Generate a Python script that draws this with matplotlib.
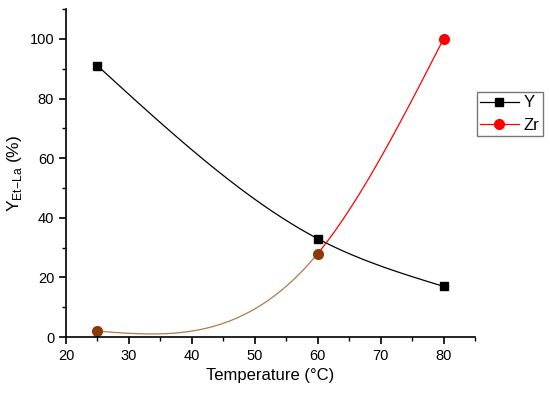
import numpy as np
import matplotlib
matplotlib.use("Agg")
import matplotlib.pyplot as plt
from matplotlib.ticker import MultipleLocator

plt.rcParams['font.family'] = ['Liberation Sans', 'DejaVu Sans']
plt.rcParams['mathtext.fontset'] = 'custom'
plt.rcParams['mathtext.rm'] = 'Liberation Sans'

temp = [25, 60, 80]
y_vals = [91, 33, 17]
zr_vals = [2, 28, 100]


def natural_spline(x, y, n=200):
    # natural cubic spline through the points, only used to draw the smooth line
    x = np.asarray(x, float)
    y = np.asarray(y, float)
    k = len(x)
    h = np.diff(x)
    A = np.zeros((k, k))
    b = np.zeros(k)
    A[0, 0] = 1
    A[-1, -1] = 1
    for i in range(1, k - 1):
        A[i, i - 1] = h[i - 1]
        A[i, i] = 2 * (h[i - 1] + h[i])
        A[i, i + 1] = h[i]
        b[i] = 6 * ((y[i + 1] - y[i]) / h[i] - (y[i] - y[i - 1]) / h[i - 1])
    M = np.linalg.solve(A, b)
    xs = np.linspace(x[0], x[-1], n)
    ys = np.empty_like(xs)
    for j, xv in enumerate(xs):
        i = min(np.searchsorted(x, xv, side='right') - 1, k - 2)
        t1 = x[i + 1] - xv
        t0 = xv - x[i]
        ys[j] = (M[i] * t1**3 / (6 * h[i]) + M[i + 1] * t0**3 / (6 * h[i])
                 + (y[i] / h[i] - M[i] * h[i] / 6) * t1
                 + (y[i + 1] / h[i] - M[i + 1] * h[i] / 6) * t0)
    return xs, ys


fig = plt.figure(figsize=(5.5, 3.97), dpi=100)
ax = fig.add_axes([0.12, 0.151, 0.7436, 0.826])

xs, ys = natural_spline(temp, y_vals)
ax.plot(xs, ys, color='black', lw=0.9)
ax.plot(temp, y_vals, 's', color='black', ms=6)

xs, zs = natural_spline(temp, zr_vals)
lo = xs <= 60
ax.plot(xs[lo], zs[lo], color='#b07a50', lw=0.9)
ax.plot(xs[~lo], zs[~lo], color='red', lw=0.9)
ax.plot(temp[:2], zr_vals[:2], 'o', color='#8b3a0a', ms=7)
ax.plot(temp[2:], zr_vals[2:], 'o', color='red', ms=7)

# legend handles
hy, = ax.plot([], [], '-s', color='black', lw=0.9, ms=6, label='Y')
hz, = ax.plot([], [], '-o', color='red', lw=0.9, ms=7, label='Zr')
fig.legend(handles=[hy, hz], loc='upper left', bbox_to_anchor=(0.867, 0.768),
           frameon=True, fancybox=False, edgecolor='#555555', fontsize=12,
           handlelength=2.3, borderpad=0.2, labelspacing=0.45, handletextpad=0.3,
           borderaxespad=0)

ax.set_xlim(20, 85)
ax.set_ylim(0, 110)
ax.xaxis.set_major_locator(MultipleLocator(10))
ax.xaxis.set_minor_locator(MultipleLocator(5))
ax.yaxis.set_major_locator(MultipleLocator(20))
ax.yaxis.set_minor_locator(MultipleLocator(10))
ax.set_xticks(range(20, 81, 10))
ax.set_yticks(range(0, 101, 20))
ax.spines['top'].set_visible(False)
ax.spines['right'].set_visible(False)
for s in ('left', 'bottom'):
    ax.spines[s].set_linewidth(1.2)
ax.tick_params(which='major', direction='out', length=5, width=1.2, labelsize=10.5)
ax.tick_params(which='minor', direction='out', length=3, width=1.0)

ax.set_xlabel('Temperature (°C)', fontsize=12)
ax.set_ylabel(r'Y$_{\mathregular{Et{-}La}}$ (%)', fontsize=12.5)

fig.savefig('out.png', dpi=100)
